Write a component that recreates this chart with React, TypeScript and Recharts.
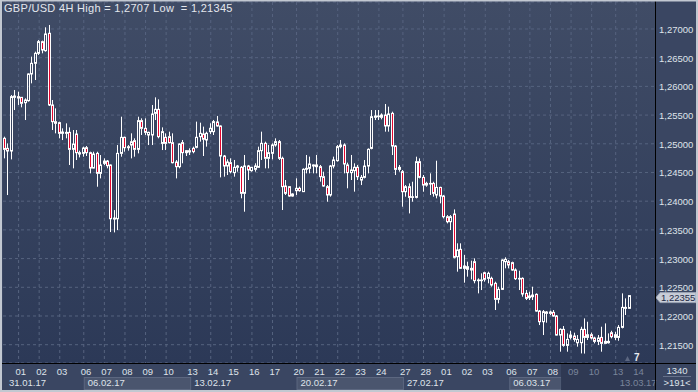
import { Bar, CartesianGrid, ComposedChart, ReferenceLine, XAxis, YAxis } from "recharts";

// GBP/USD 4H candles (31.01.17 12:00 .. 14.03.17 00:00)
const opens = [
  1.25095, 1.2492, 1.24874, 1.25809, 1.25821, 1.25809, 1.25716, 1.25751, 1.26216, 1.26402,
  1.26576, 1.26779, 1.26622, 1.26925, 1.25676, 1.25385, 1.25368, 1.25182, 1.25182, 1.25199,
  1.24903, 1.2517, 1.24821, 1.24833, 1.24932, 1.24845, 1.24577, 1.24833, 1.24485, 1.24659,
  1.24699, 1.2463, 1.23688, 1.23694, 1.24833, 1.25112, 1.24932, 1.24978, 1.25054, 1.24903,
  1.25403, 1.25269, 1.25153, 1.25153, 1.2553, 1.256, 1.25007, 1.25112, 1.25124, 1.25019,
  1.24682, 1.24601, 1.2502, 1.24845, 1.24857, 1.24921, 1.24938, 1.25124, 1.25171, 1.25066,
  1.25211, 1.25211, 1.2538, 1.2531, 1.24787, 1.24613, 1.24671, 1.24497, 1.2459, 1.2459,
  1.24137, 1.24613, 1.24532, 1.24555, 1.2459, 1.2488, 1.25008, 1.24747, 1.24834, 1.24979,
  1.25037, 1.24747, 1.24264, 1.24253, 1.2409, 1.24183, 1.24224, 1.24166, 1.24555, 1.24572,
  1.24613, 1.24631, 1.24601, 1.24427, 1.24253, 1.24108, 1.24613, 1.24706, 1.2495, 1.24979,
  1.24631, 1.24497, 1.24532, 1.2459, 1.24368, 1.24415, 1.24612, 1.2492, 1.25461, 1.25472,
  1.25461, 1.25501, 1.2531, 1.2553, 1.24961, 1.24554, 1.24514, 1.24165, 1.24252, 1.24066,
  1.24066, 1.24688, 1.24415, 1.2431, 1.24299, 1.2431, 1.24107, 1.2424, 1.24089, 1.23729,
  1.23642, 1.23776, 1.23033, 1.23161, 1.2283, 1.22859, 1.22801, 1.22946, 1.22615, 1.22615,
  1.22754, 1.22656, 1.22656, 1.22569, 1.2229, 1.22464, 1.22946, 1.22946, 1.22929, 1.22801,
  1.22644, 1.22656, 1.22394, 1.22319, 1.22336, 1.22377, 1.22086, 1.219, 1.22046, 1.22069,
  1.22063, 1.21999, 1.21668, 1.21767, 1.21488, 1.21627, 1.21651, 1.21534, 1.21534, 1.21767,
  1.21627, 1.21674, 1.21616, 1.21558, 1.21627, 1.21523, 1.21534, 1.21709, 1.21627, 1.21627,
  1.21802, 1.22133, 1.22133,
];
const highs = [
  1.25124, 1.25007, 1.2585, 1.25937, 1.25908, 1.25815, 1.25792, 1.26227, 1.26518, 1.26605,
  1.26808, 1.26797, 1.27029, 1.2707, 1.25763, 1.25617, 1.25385, 1.25269, 1.25356, 1.25286,
  1.2524, 1.2524, 1.2488, 1.24949, 1.24961, 1.24862, 1.24862, 1.24862, 1.24804, 1.24746,
  1.24717, 1.2464, 1.23845, 1.24978, 1.25472, 1.25124, 1.24978, 1.25182, 1.25095, 1.25472,
  1.25443, 1.25443, 1.25211, 1.25676, 1.25809, 1.25774, 1.25286, 1.25182, 1.25211, 1.25182,
  1.24717, 1.25007, 1.25066, 1.24892, 1.24921, 1.2495, 1.25386, 1.25368, 1.25299, 1.25211,
  1.25357, 1.25415, 1.25485, 1.2532, 1.24805, 1.24729, 1.24747, 1.24718, 1.24631, 1.24613,
  1.24805, 1.24631, 1.24595, 1.2466, 1.2495, 1.25211, 1.25037, 1.24979, 1.25008, 1.25095,
  1.25066, 1.24776, 1.24369, 1.24264, 1.24137, 1.24398, 1.24253, 1.24572, 1.24805, 1.24776,
  1.2464, 1.24805, 1.24631, 1.24514, 1.24282, 1.24631, 1.24776, 1.24979, 1.25066, 1.25008,
  1.24671, 1.24805, 1.2466, 1.24631, 1.24456, 1.24717, 1.2492, 1.25588, 1.25588, 1.25588,
  1.2553, 1.25693, 1.25647, 1.25559, 1.24978, 1.2463, 1.24543, 1.24281, 1.2431, 1.24339,
  1.24775, 1.24746, 1.24456, 1.24339, 1.24485, 1.24339, 1.24705, 1.24252, 1.24107, 1.23758,
  1.23758, 1.23857, 1.23266, 1.23266, 1.23062, 1.22946, 1.22964, 1.23004, 1.22656, 1.22743,
  1.22772, 1.22772, 1.22685, 1.22598, 1.2251, 1.22987, 1.23022, 1.22975, 1.22946, 1.2283,
  1.22789, 1.22673, 1.22452, 1.22423, 1.2251, 1.22394, 1.22104, 1.22104, 1.22086, 1.22092,
  1.22104, 1.22017, 1.21784, 1.21825, 1.21697, 1.21743, 1.21709, 1.21668, 1.21813, 1.21958,
  1.219, 1.21709, 1.21639, 1.21668, 1.21813, 1.21871, 1.21697, 1.21743, 1.21726, 1.21842,
  1.22394, 1.22307, 1.2236,
];
const lows = [
  1.24746, 1.24107, 1.24728, 1.25588, 1.25676, 1.25635, 1.25414, 1.25734, 1.26053, 1.26111,
  1.26547, 1.26576, 1.26605, 1.25658, 1.2524, 1.25182, 1.25095, 1.25065, 1.25095, 1.2463,
  1.24572, 1.24717, 1.24763, 1.24775, 1.24787, 1.24485, 1.24572, 1.24252, 1.24397, 1.2463,
  1.24572, 1.23462, 1.23456, 1.23497, 1.24775, 1.24862, 1.2488, 1.24746, 1.24775, 1.24833,
  1.25153, 1.25153, 1.24978, 1.24978, 1.25414, 1.25095, 1.24891, 1.24891, 1.25007, 1.24659,
  1.24397, 1.24572, 1.2466, 1.24787, 1.24805, 1.24834, 1.24921, 1.25037, 1.24787, 1.2495,
  1.25171, 1.25153, 1.25299, 1.24415, 1.24427, 1.24456, 1.24485, 1.24427, 1.24514, 1.2405,
  1.23817, 1.24369, 1.24514, 1.24514, 1.24585, 1.24718, 1.24572, 1.24572, 1.24729, 1.2495,
  1.24718, 1.23846, 1.24108, 1.24079, 1.24079, 1.24108, 1.24166, 1.2416, 1.24485, 1.24485,
  1.24485, 1.24485, 1.2434, 1.24253, 1.23991, 1.24079, 1.24572, 1.24689, 1.24921, 1.24485,
  1.24224, 1.24369, 1.24166, 1.24369, 1.24281, 1.24397, 1.24485, 1.24903, 1.25414, 1.25414,
  1.25426, 1.25211, 1.25211, 1.24804, 1.24456, 1.24514, 1.23904, 1.24078, 1.23787, 1.23991,
  1.24049, 1.24397, 1.24165, 1.24252, 1.24107, 1.24078, 1.24049, 1.23962, 1.237, 1.23613,
  1.23497, 1.23004, 1.22772, 1.2282, 1.2258, 1.22685, 1.22638, 1.22569, 1.22394, 1.22452,
  1.22598, 1.22569, 1.2251, 1.22104, 1.2222, 1.22452, 1.2283, 1.2283, 1.22789, 1.22627,
  1.22452, 1.22336, 1.22278, 1.22278, 1.22278, 1.22075, 1.21842, 1.21668, 1.21883, 1.22017,
  1.21988, 1.2166, 1.21378, 1.21465, 1.21378, 1.21592, 1.21552, 1.21465, 1.21348, 1.21345,
  1.21581, 1.21592, 1.21523, 1.21494, 1.21378, 1.21515, 1.2152, 1.2161, 1.21581, 1.21569,
  1.21784, 1.22017, 1.22128,
];
const closes = [
  1.24903, 1.24874, 1.25821, 1.25832, 1.25797, 1.25705, 1.25763, 1.26216, 1.26402, 1.26576,
  1.26779, 1.26634, 1.26913, 1.25676, 1.25385, 1.25356, 1.25182, 1.25205, 1.25199, 1.24903,
  1.24996, 1.24845, 1.24845, 1.24926, 1.24845, 1.24577, 1.24821, 1.24485, 1.2463, 1.24699,
  1.24618, 1.23694, 1.23706, 1.24833, 1.25112, 1.24932, 1.24949, 1.25036, 1.24903, 1.25403,
  1.25269, 1.25199, 1.25199, 1.25519, 1.256, 1.25124, 1.25211, 1.25007, 1.25019, 1.2467,
  1.24601, 1.24996, 1.24845, 1.2488, 1.2488, 1.24863, 1.25113, 1.25182, 1.25078, 1.25182,
  1.2527, 1.25386, 1.2531, 1.24787, 1.24613, 1.24683, 1.24514, 1.2459, 1.24613, 1.24137,
  1.24613, 1.24543, 1.2459, 1.24613, 1.2488, 1.25008, 1.24747, 1.24845, 1.24979, 1.25037,
  1.24747, 1.24253, 1.24137, 1.2409, 1.24125, 1.24224, 1.24183, 1.24555, 1.24572, 1.24648,
  1.24631, 1.24601, 1.24427, 1.24264, 1.24108, 1.24613, 1.24718, 1.2495, 1.24979, 1.24648,
  1.24497, 1.24543, 1.2459, 1.24427, 1.24415, 1.24612, 1.24903, 1.25472, 1.25484, 1.25484,
  1.25501, 1.2531, 1.25519, 1.24961, 1.24554, 1.24589, 1.24165, 1.24252, 1.24066, 1.24078,
  1.24688, 1.24415, 1.24281, 1.24281, 1.2431, 1.24136, 1.2424, 1.24089, 1.23729, 1.23642,
  1.23729, 1.23022, 1.2315, 1.2283, 1.22871, 1.22813, 1.2283, 1.22615, 1.22627, 1.22627,
  1.22638, 1.22743, 1.2254, 1.2229, 1.22464, 1.22975, 1.22987, 1.22888, 1.22801, 1.2265,
  1.22656, 1.22383, 1.22307, 1.22348, 1.22365, 1.22086, 1.219, 1.22075, 1.22069, 1.22046,
  1.21999, 1.21668, 1.21767, 1.21488, 1.21592, 1.21668, 1.21592, 1.21592, 1.21767, 1.21627,
  1.21674, 1.21616, 1.21558, 1.21616, 1.21523, 1.21558, 1.21558, 1.21639, 1.21674, 1.21802,
  1.2215, 1.2215, 1.22355,
];

// first bar of each day, and its label
const dayStarts = [2, 8, 14, 21, 27, 33, 39, 45, 52, 58, 64, 70, 76, 83, 89, 95, 101, 107, 114, 120, 126, 132, 138, 145, 151, 157, 163, 169, 176, 182];
const dayLabels = ["01", "02", "03", "06", "07", "08", "09", "10", "13", "14", "15", "16", "17", "20", "21", "22", "23", "24", "27", "28", "01", "02", "03", "06", "07", "08", "09", "10", "13", "14"];
const weekStarts = [0, 21, 52, 83, 114, 145, 176];
const weekLabels = ["31.01.17", "06.02.17", "13.02.17", "20.02.17", "27.02.17", "06.03.17", "13.03.17"];
const priceTicks = [1.215, 1.22, 1.225, 1.23, 1.235, 1.24, 1.245, 1.25, 1.255, 1.26, 1.265, 1.27];
const lastPrice = 1.22355;
const shiftSlots = 7; // empty space right of the last bar
const dimFrom = 163; // greyed part of the time scale

const W = 698;
const H = 392;
const PLOT_L = 3;
const PLOT_R = 655;
const BAND = (PLOT_R - PLOT_L) / (opens.length + shiftSlots);
const FONT = "'Liberation Sans', Arial, sans-serif";

const data = [
  ...opens.map((o, i) => ({ n: i, o, h: highs[i], l: lows[i], c: closes[i] })),
  ...Array.from({ length: shiftSlots }, (_, k) => ({ n: opens.length + k, o: null, h: null, l: null, c: null })),
];

const fmt = (v: number) => v.toFixed(5).replace(".", ",");

function Candle(props: any) {
  const { x, y, width, height, payload } = props;
  if (!payload || payload.o == null) return null;
  const top = Math.min(y, y + height);
  const bot = Math.max(y, y + height);
  const span = payload.h - payload.l;
  const py = (v: number) => (span > 0 ? bot - ((v - payload.l) / span) * (bot - top) : top);
  const px = Math.round(x + width / 2 - 0.5);
  const bull = payload.c >= payload.o;
  const bTop = py(Math.max(payload.o, payload.c));
  const bBot = py(Math.min(payload.o, payload.c));
  return (
    <g>
      <line x1={px + 0.5} x2={px + 0.5} y1={top} y2={bTop} stroke="#ffffff" />
      <line x1={px + 0.5} x2={px + 0.5} y1={bBot} y2={bot} stroke="#ffffff" />
      <rect x={px - 0.5} y={bTop} width={2} height={Math.max(bBot - bTop, 0.1)} fill={bull ? "none" : "#e4062e"} stroke="#ffffff" />
    </g>
  );
}

function TimeTick(props: any) {
  const { x, y, payload } = props;
  const idx = payload.value;
  const d = dayStarts.indexOf(idx);
  const w = weekStarts.indexOf(idx);
  const parts: any[] = [];
  if (idx === dimFrom) {
    parts.push(<rect key="dim" x={x + 7 - 3 * BAND + 0.3} y={y} width={PLOT_R - (x + 7 - 3 * BAND)} height={27} fill="#2f3953" />);
  }
  if (w >= 0) {
    const bx = w === 0 ? PLOT_L + 1 : x + 7;
    const nextX = w + 1 < weekStarts.length ? x + 7 + (weekStarts[w + 1] - idx) * BAND : PLOT_R;
    const endX = Math.min(nextX, idx < dimFrom && weekStarts[w + 1] > dimFrom ? x + 7 + (dimFrom - idx) * BAND - 3 * BAND : nextX);
    const light = w % 2 === 1 && idx < dimFrom;
    if (light) {
      parts.push(<rect key="wb" x={bx + 0.5} y={y + 14.5} width={endX - bx} height={12} fill="#4a556e" stroke="#5c6780" />);
    }
    parts.push(
      <text key="wl" x={w === 0 ? 9 : bx + 4} y={y + 23} fill={idx >= dimFrom ? "#7a859b" : "#dfe3ea"} fontSize={9.5} fontFamily={FONT}>
        {weekLabels[w]}
      </text>
    );
  }
  if (d >= 0) {
    parts.push(
      <text key="dl" x={x + 4} y={y + 12} fill={idx >= dimFrom ? "#7a859b" : "#dfe3ea"} fontSize={9.5} fontFamily={FONT}>
        {dayLabels[d]}
      </text>
    );
  }
  if (!parts.length) return null;
  return <g>{parts}</g>;
}

function PriceTick(props: any) {
  const { x, y, payload } = props;
  return (
    <text x={x} y={y + 4} fill="#dfe3ea" fontSize={9.5} fontFamily={FONT} textAnchor="start">
      {fmt(payload.value)}
    </text>
  );
}

function PriceTag(props: any) {
  const vb = props.viewBox || {};
  const tx = (vb.x ?? PLOT_L) + (vb.width ?? PLOT_R - PLOT_L);
  const cy = (vb.y ?? 0) + 2;
  return (
    <g>
      <path d={`M${tx + 1} ${cy} L${tx + 5} ${cy - 5} L${W - 2} ${cy - 5} L${W - 2} ${cy + 5} L${tx + 5} ${cy + 5} Z`} fill="#c9ced8" stroke="#9aa3b4" />
      <text x={tx + 6} y={cy + 3.5} fill="#1d2945" fontSize={9.5} fontFamily={FONT}>
        {fmt(lastPrice)}
      </text>
    </g>
  );
}

export default function App() {
  const gridX = dayStarts.map((i) => PLOT_L + (i + 0.5) * BAND + 7);
  return (
    <div style={{ position: "absolute", left: 0, top: 0, width: W, height: H, background: "#3a4662" }}>
      <ComposedChart width={W} height={H} data={data} margin={{ top: 2, right: 0, bottom: 0, left: PLOT_L }} barCategoryGap={0}>
        <defs>
          <linearGradient id="plotBg" x1="0" y1="0" x2="0" y2="1">
            <stop offset="0%" stopColor="#404c66" />
            <stop offset="100%" stopColor="#2c3957" />
          </linearGradient>
        </defs>
        <CartesianGrid fill="url(#plotBg)" stroke="#56637f" strokeDasharray="3 3" verticalPoints={gridX} />
        <XAxis dataKey="n" type="category" interval={0} height={29} tickSize={0} tickMargin={0} axisLine={false} tickLine={false} tick={<TimeTick />} />
        <YAxis
          orientation="right"
          width={43}
          domain={[1.21181, 1.2747]}
          allowDataOverflow
          ticks={priceTicks}
          tickSize={0}
          tickMargin={4}
          axisLine={false}
          tickLine={false}
          tick={<PriceTick />}
        />
        <Bar dataKey={(d: any) => (d.o == null ? null : [d.l, d.h])} shape={<Candle />} isAnimationActive={false} />
        <ReferenceLine y={lastPrice} stroke="none" label={<PriceTag />} />
      </ComposedChart>
      <svg width={W} height={H} style={{ position: "absolute", left: 0, top: 0, pointerEvents: "none" }}>
        <text x={4} y={12} fill="#e4e7ee" fontSize={11} letterSpacing={0.3} fontFamily={FONT} style={{ whiteSpace: "pre" }}>
          {"GBP/USD 4H High = 1,2707 Low  = 1,21345"}
        </text>
        <line x1={655.5} x2={655.5} y1={0} y2={H} stroke="#000000" />
        <line x1={0} x2={W} y1={363.5} y2={363.5} stroke="#000000" />
        <path d="M625 361 L630 361 L627.5 356 Z" fill="#5c6781" />
        <text x={634} y={361} fill="#e8ebf1" fontSize={10} fontWeight="bold" fontFamily={FONT}>7</text>
        <text x={677} y={374} fill="#dfe3ea" fontSize={9.5} fontFamily={FONT} textAnchor="middle">1340</text>
        <line x1={663} x2={691} y1={376.5} y2={376.5} stroke="#66718a" />
        <text x={677} y={386} fill="#dfe3ea" fontSize={9.5} fontFamily={FONT} textAnchor="middle">{">191<"}</text>
        <rect x={1} y={0.5} width={W - 2} height={H - 1.5} fill="none" stroke="#c2c8d1" strokeWidth={2} />
      </svg>
    </div>
  );
}
